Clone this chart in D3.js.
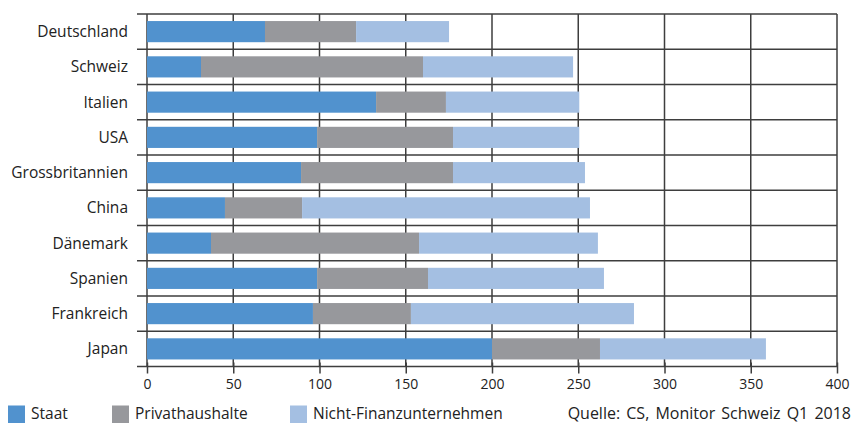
<!DOCTYPE html>
<html>
<head>
<meta charset="utf-8">
<script src="https://cdn.jsdelivr.net/npm/d3@7"></script>
<style>
  html, body { margin: 0; padding: 0; background: #fff; }
  svg { display: block; }
  text { font-family: "Open Sans", "Noto Sans", sans-serif; fill: #222; }
</style>
</head>
<body>
<svg id="chart" width="853" height="423"></svg>
<script>
const categories = ["Deutschland", "Schweiz", "Italien", "USA", "Grossbritannien", "China", "Dänemark", "Spanien", "Frankreich", "Japan"];
const staat = [68.4, 31.3, 132.8, 98.6, 89.3, 45.2, 37.1, 98.6, 96.2, 200.0];
const privathaushalte = [52.8, 128.7, 40.5, 78.8, 88.1, 44.7, 120.6, 64.3, 56.8, 62.6];
const nichtFinanz = [53.9, 87.0, 77.3, 73.2, 76.5, 166.9, 103.7, 102.0, 129.3, 96.2];
const seriesNames = ["Staat", "Privathaushalte", "Nicht-Finanzunternehmen"];
const seriesColors = ["#5192ce", "#97989c", "#a4bfe2"];
const xTicks = [0, 50, 100, 150, 200, 250, 300, 350, 400];
const sourceText = "Quelle: CS, Monitor Schweiz Q1 2018";

const svg = d3.select("#chart");
const x = d3.scaleLinear().domain([0, 400]).range([147, 837]);
const y = d3.scaleBand().domain(categories).range([14, 366.5]).paddingInner(0.4).paddingOuter(0.2);
const step = y.step();
const gridColor = "#3e3e3e";

const rows = categories.map((c, i) => ({ cat: c, vals: [staat[i], privathaushalte[i], nichtFinanz[i]] }));
const stack = d3.stack().keys([0, 1, 2]).value((d, k) => d.vals[k]);
const stacked = stack(rows);

// grid: vertical lines
const grid = svg.append("g");
grid.selectAll("line.v").data(xTicks).join("line")
  .attr("x1", d => x(d)).attr("x2", d => x(d))
  .attr("y1", y.range()[0]).attr("y2", y.range()[1])
  .attr("stroke", gridColor).attr("stroke-width", 1.5);
// horizontal row separators (with ticks to the left)
const bounds = categories.map(c => y(c) - y.paddingOuter() * step);
grid.selectAll("line.h").data(bounds).join("line")
  .attr("x1", x(0) - 10).attr("x2", x(400))
  .attr("y1", d => d).attr("y2", d => d)
  .attr("stroke", gridColor).attr("stroke-width", 1.5);

// bars
svg.append("g").selectAll("g").data(stacked).join("g")
  .attr("fill", (d, i) => seriesColors[i])
  .selectAll("rect").data(d => d).join("rect")
  .attr("x", d => x(d[0]))
  .attr("width", d => x(d[1]) - x(d[0]))
  .attr("y", d => y(d.data.cat))
  .attr("height", y.bandwidth());

// x axis
const xAxis = d3.axisBottom(x).tickValues(xTicks).tickSize(7).tickPadding(6).tickSizeOuter(0);
const gx = svg.append("g").attr("transform", `translate(0,${y.range()[1]})`).call(xAxis);
gx.select(".domain").attr("stroke", gridColor).attr("stroke-width", 1.5).attr("d", `M${x(0) - 10},0H${x(400)}`);
gx.selectAll(".tick line").attr("stroke", gridColor).attr("stroke-width", 1.5).attr("y1", -4);
gx.selectAll(".tick text").attr("font-size", 14).attr("fill", "#222").attr("font-family", "Open Sans, sans-serif");

// category labels
svg.append("g").selectAll("text").data(categories).join("text")
  .attr("x", 128).attr("y", d => y(d) + y.bandwidth() / 2)
  .attr("dy", "0.35em").attr("text-anchor", "end").attr("font-size", 15.5)
  .text(d => d);

// legend
const legendX = [8, 112, 290];
const lg = svg.append("g").selectAll("g").data(seriesNames).join("g")
  .attr("transform", (d, i) => `translate(${legendX[i]},405.5)`);
lg.append("rect").attr("width", 17).attr("height", 17.5).attr("fill", (d, i) => seriesColors[i]);
lg.append("text").attr("x", 23).attr("y", 13.5).attr("font-size", 15.5).text(d => d);
svg.append("text").attr("x", 851).attr("y", 419).attr("text-anchor", "end").attr("font-size", 16)
  .attr("word-spacing", 2).text(sourceText);
</script>
</body>
</html>
